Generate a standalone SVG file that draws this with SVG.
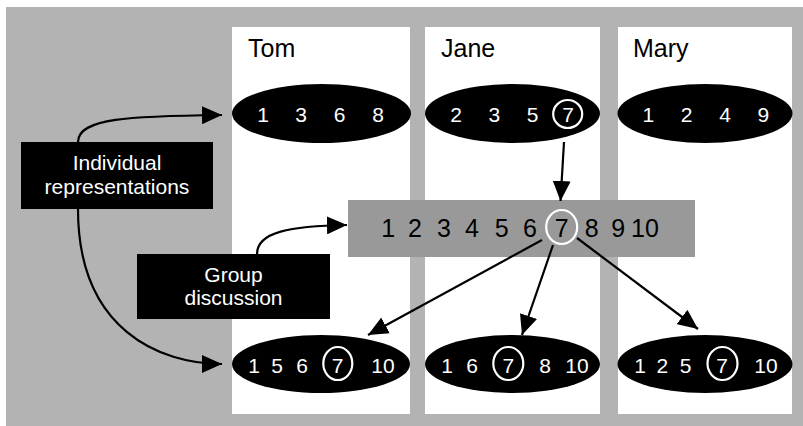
<svg xmlns="http://www.w3.org/2000/svg" width="803" height="426" viewBox="0 0 803 426">
<style>
.name{font-family:"Liberation Sans",Arial,sans-serif;font-size:25px;fill:#000}
.d{font-family:"Liberation Sans",Arial,sans-serif;font-size:21px;fill:#fff;text-anchor:middle}
.m{font-family:"Liberation Sans",Arial,sans-serif;font-size:25px;fill:#000;text-anchor:middle}
.lbl{font-family:"Liberation Sans",Arial,sans-serif;font-size:21px;fill:#fff;text-anchor:middle}
.ring{fill:none;stroke:#fff;stroke-width:2.2}
.arr{fill:none;stroke:#000;stroke-width:2.2;marker-end:url(#ah)}
</style>
<defs>
<marker id="ah" markerUnits="userSpaceOnUse" markerWidth="20" markerHeight="18" refX="20" refY="9" orient="auto">
<path d="M0,0 L20,9 L0,18 z" fill="#000"/>
</marker>
</defs>
<rect x="6" y="7" width="797" height="419" fill="#b3b3b3"/>
<g id="col-tom"><rect x="232" y="27" width="178" height="387" fill="#fff"/><text class="name" x="248" y="57">Tom</text></g>
<g id="col-jane"><rect x="425" y="27" width="175" height="387" fill="#fff"/><text class="name" x="441" y="57">Jane</text></g>
<g id="col-mary"><rect x="618" y="27" width="174" height="387" fill="#fff"/><text class="name" x="633" y="57">Mary</text></g>

<g id="tom-top"><ellipse cx="321.5" cy="113.5" rx="89.5" ry="29.5" fill="#000"/>
<text class="d" y="122"><tspan x="263">1</tspan><tspan x="301">3</tspan><tspan x="339.5">6</tspan><tspan x="378">8</tspan></text></g>
<g id="jane-top"><ellipse cx="512.5" cy="113.5" rx="87.5" ry="29.5" fill="#000"/>
<text class="d" y="122"><tspan x="456">2</tspan><tspan x="494.3">3</tspan><tspan x="532.7">5</tspan><tspan x="568">7</tspan></text>
<ellipse class="ring" cx="567.7" cy="114" rx="14.5" ry="14"/></g>
<g id="mary-top"><ellipse cx="705" cy="113.5" rx="87.5" ry="29.5" fill="#000"/>
<text class="d" y="122"><tspan x="648.3">1</tspan><tspan x="686.7">2</tspan><tspan x="725">4</tspan><tspan x="763.3">9</tspan></text></g>

<g id="group-scale"><rect x="348" y="200" width="347" height="57" fill="#999"/>
<text class="m" y="237.3"><tspan x="388.3">1</tspan><tspan x="415">2</tspan><tspan x="444">3</tspan><tspan x="472">4</tspan><tspan x="501.7">5</tspan><tspan x="530">6</tspan><tspan x="561.7">7</tspan><tspan x="591.7">8</tspan><tspan x="618.3">9</tspan><tspan x="645">10</tspan></text>
<ellipse class="ring" cx="561.7" cy="227" rx="15.5" ry="17"/></g>

<g id="tom-bottom"><ellipse cx="321" cy="364" rx="89" ry="29" fill="#000"/>
<text class="d" y="373.3"><tspan x="254">1</tspan><tspan x="277">5</tspan><tspan x="302">6</tspan><tspan x="337.5">7</tspan><tspan x="383">10</tspan></text>
<ellipse class="ring" cx="337.8" cy="363.5" rx="14.5" ry="16.5"/></g>
<g id="jane-bottom"><ellipse cx="512.5" cy="364" rx="87.5" ry="29" fill="#000"/>
<text class="d" y="373.3"><tspan x="447">1</tspan><tspan x="472">6</tspan><tspan x="508.3">7</tspan><tspan x="545">8</tspan><tspan x="577">10</tspan></text>
<ellipse class="ring" cx="508.3" cy="363.5" rx="15" ry="16.5"/></g>
<g id="mary-bottom"><ellipse cx="705" cy="364" rx="87.5" ry="29" fill="#000"/>
<text class="d" y="373.3"><tspan x="640">1</tspan><tspan x="662.3">2</tspan><tspan x="685.7">5</tspan><tspan x="722">7</tspan><tspan x="766">10</tspan></text>
<ellipse class="ring" cx="722.5" cy="363.5" rx="15" ry="16.5"/></g>

<g id="connectors">
<path class="arr" d="M78,142 C78,118 130,116 222,115"/>
<path class="arr" d="M78,209 C78,330 160,364 222,364"/>
<path class="arr" d="M257,254 C257,232 290,226 347,225"/>
<path class="arr" d="M564,142 L560.5,201"/>
<path class="arr" d="M542,240 L368,335"/>
<path class="arr" d="M553,245 L522,335"/>
<path class="arr" d="M577,238 L698,329"/>
</g>

<g id="label-individual"><rect x="21" y="142" width="192" height="67" fill="#000"/>
<text class="lbl" x="117" y="169.5">Individual</text><text class="lbl" x="117" y="194">representations</text></g>
<g id="label-group"><rect x="137" y="254" width="193" height="65" fill="#000"/>
<text class="lbl" x="233.5" y="281.5">Group</text><text class="lbl" x="233.5" y="305">discussion</text></g>
</svg>
